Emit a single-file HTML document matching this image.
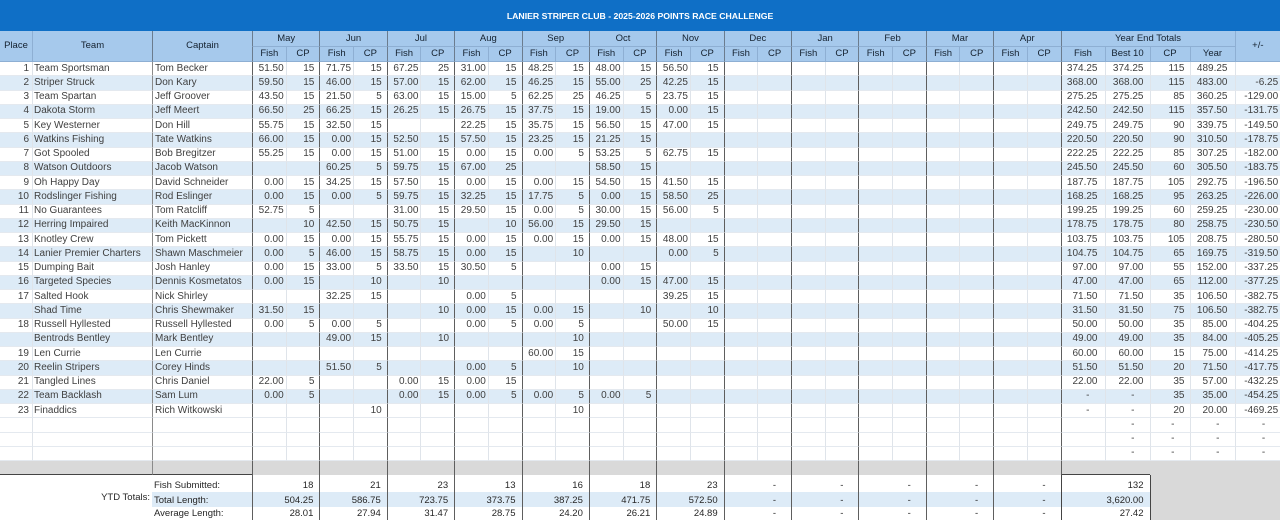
<!DOCTYPE html>
<html><head><meta charset="utf-8">
<style>
html,body{margin:0;padding:0;background:#fff}
body{width:1280px;height:520px;overflow:hidden}
table{border-collapse:separate;border-spacing:0;table-layout:fixed;width:1280px;font-family:"Liberation Sans",Arial,sans-serif;font-size:10px;color:#404040}
td{padding:0;white-space:nowrap;overflow:hidden;line-height:12px;border-left:1px solid #dfe4ea;border-bottom:1px solid #e4e9ef;text-align:right;vertical-align:middle}
tr.ti{height:31px}
.ti td{background:#0f6fc6;color:#fff;font-weight:bold;font-size:8.7px;text-align:center;border:none}
tr.h1{height:16px}
tr.h2{height:15px}
.h td{background:#a6c9ec;color:#14212f;font-size:9.5px;text-align:center;border-left:1px solid #8eafd3;border-bottom:1px solid #8eafd3}
.h td.m{border-left-color:#6b7c8e}
.h td.n{border-left:none}
.d tr{height:14.25px}
.d td:nth-child(1){border-left:none;padding-right:3px}
.d td:nth-child(2){text-align:left;padding-left:1px}
.d td:nth-child(3){text-align:left;padding-left:2px;border-left-color:#8a8a8a}
.d td:nth-child(2n+4){padding-right:2px;border-left-color:#5e5e5e}
.d td:nth-child(2n+5){padding-right:5px}
.d td:nth-child(28){padding-right:7px;border-left-color:#5e5e5e}
.d td:nth-child(29){padding-right:6px;border-left-color:#dfe4ea}
.d td:nth-child(30){padding-right:5px;border-left-color:#dfe4ea}
.d td:nth-child(31){padding-right:7px}
.d td:nth-child(32){padding-right:2px;border-left-color:#dfe4ea}
.d tr.b td{background:#ddebf7}
.d td.z{padding-right:15px !important}
tr.g{height:14px}
.g td{background:#d9d9d9;border-bottom:none;border-left:1px solid #5e5e5e}
.g td.gl{border-left:none;border-bottom:1px solid #444}
.g td.gk{border-left-color:#8a8a8a;border-bottom:1px solid #444}
.g td.gy{border-bottom:1px solid #444}
.g td.gr{border-left:none}
tr.y1{height:16.5px}
tr.y2{height:15px}
tr.y3{height:13.5px}
.y td{color:#262626;font-size:9.5px;vertical-align:bottom;border-bottom:none;border-left:1px solid #5e5e5e;padding-right:6px}
.y td.yl{border-left:none;vertical-align:middle;padding-right:2px;background:#fff}
.y td.yk{text-align:left;padding-left:2px;border-left:none}
.y td.z{padding-right:15px}
.y td.yb{border-left:1px solid #444}
.y td.yr{background:#d9d9d9;border-left:1px solid #444}
tr.y2 td{background:#ddebf7}
tr.y2 td.yr{background:#d9d9d9}
</style></head>
<body>
<table>
<colgroup>
<col style="width:32px"><col style="width:120px"><col style="width:100px">
<col style="width:33.7px"><col style="width:33.7px"><col style="width:33.7px"><col style="width:33.7px">
<col style="width:33.7px"><col style="width:33.7px"><col style="width:33.7px"><col style="width:33.7px">
<col style="width:33.7px"><col style="width:33.7px"><col style="width:33.7px"><col style="width:33.7px">
<col style="width:33.7px"><col style="width:33.7px"><col style="width:33.7px"><col style="width:33.7px">
<col style="width:33.7px"><col style="width:33.7px"><col style="width:33.7px"><col style="width:33.7px">
<col style="width:33.7px"><col style="width:33.7px"><col style="width:33.7px"><col style="width:33.7px">
<col style="width:44px"><col style="width:45px"><col style="width:40px"><col style="width:45px"><col style="width:45.2px">
</colgroup>
<tbody>
<tr class="ti"><td colspan="32">LANIER STRIPER CLUB - 2025-2026 POINTS RACE CHALLENGE</td></tr>
</tbody>
<tbody class="h">
<tr class="h1"><td rowspan="2" class="n">Place</td><td rowspan="2">Team</td><td rowspan="2" class="m">Captain</td>
<td colspan="2" class="m">May</td><td colspan="2" class="m">Jun</td><td colspan="2" class="m">Jul</td><td colspan="2" class="m">Aug</td><td colspan="2" class="m">Sep</td><td colspan="2" class="m">Oct</td><td colspan="2" class="m">Nov</td><td colspan="2" class="m">Dec</td><td colspan="2" class="m">Jan</td><td colspan="2" class="m">Feb</td><td colspan="2" class="m">Mar</td><td colspan="2" class="m">Apr</td>
<td colspan="4" class="m">Year End Totals</td><td rowspan="2">+/-</td></tr>
<tr class="h2"><td class="m">Fish</td><td>CP</td><td class="m">Fish</td><td>CP</td><td class="m">Fish</td><td>CP</td><td class="m">Fish</td><td>CP</td><td class="m">Fish</td><td>CP</td><td class="m">Fish</td><td>CP</td><td class="m">Fish</td><td>CP</td><td class="m">Fish</td><td>CP</td><td class="m">Fish</td><td>CP</td><td class="m">Fish</td><td>CP</td><td class="m">Fish</td><td>CP</td><td class="m">Fish</td><td>CP</td>
<td class="m">Fish</td><td>Best 10</td><td>CP</td><td>Year</td></tr>
</tbody>
<tbody class="d">
<tr><td>1<td>Team Sportsman<td>Tom Becker<td>51.50<td>15<td>71.75<td>15<td>67.25<td>25<td>31.00<td>15<td>48.25<td>15<td>48.00<td>15<td>56.50<td>15<td><td><td><td><td><td><td><td><td><td><td>374.25<td>374.25<td>115<td>489.25<td></tr>
<tr class="b"><td>2<td>Striper Struck<td>Don Kary<td>59.50<td>15<td>46.00<td>15<td>57.00<td>15<td>62.00<td>15<td>46.25<td>15<td>55.00<td>25<td>42.25<td>15<td><td><td><td><td><td><td><td><td><td><td>368.00<td>368.00<td>115<td>483.00<td>-6.25</tr>
<tr><td>3<td>Team Spartan<td>Jeff Groover<td>43.50<td>15<td>21.50<td>5<td>63.00<td>15<td>15.00<td>5<td>62.25<td>25<td>46.25<td>5<td>23.75<td>15<td><td><td><td><td><td><td><td><td><td><td>275.25<td>275.25<td>85<td>360.25<td>-129.00</tr>
<tr class="b"><td>4<td>Dakota Storm<td>Jeff Meert<td>66.50<td>25<td>66.25<td>15<td>26.25<td>15<td>26.75<td>15<td>37.75<td>15<td>19.00<td>15<td>0.00<td>15<td><td><td><td><td><td><td><td><td><td><td>242.50<td>242.50<td>115<td>357.50<td>-131.75</tr>
<tr><td>5<td>Key Westerner<td>Don Hill<td>55.75<td>15<td>32.50<td>15<td><td><td>22.25<td>15<td>35.75<td>15<td>56.50<td>15<td>47.00<td>15<td><td><td><td><td><td><td><td><td><td><td>249.75<td>249.75<td>90<td>339.75<td>-149.50</tr>
<tr class="b"><td>6<td>Watkins Fishing<td>Tate Watkins<td>66.00<td>15<td>0.00<td>15<td>52.50<td>15<td>57.50<td>15<td>23.25<td>15<td>21.25<td>15<td><td><td><td><td><td><td><td><td><td><td><td><td>220.50<td>220.50<td>90<td>310.50<td>-178.75</tr>
<tr><td>7<td>Got Spooled<td>Bob Bregitzer<td>55.25<td>15<td>0.00<td>15<td>51.00<td>15<td>0.00<td>15<td>0.00<td>5<td>53.25<td>5<td>62.75<td>15<td><td><td><td><td><td><td><td><td><td><td>222.25<td>222.25<td>85<td>307.25<td>-182.00</tr>
<tr class="b"><td>8<td>Watson Outdoors<td>Jacob Watson<td><td><td>60.25<td>5<td>59.75<td>15<td>67.00<td>25<td><td><td>58.50<td>15<td><td><td><td><td><td><td><td><td><td><td><td><td>245.50<td>245.50<td>60<td>305.50<td>-183.75</tr>
<tr><td>9<td>Oh Happy Day<td>David Schneider<td>0.00<td>15<td>34.25<td>15<td>57.50<td>15<td>0.00<td>15<td>0.00<td>15<td>54.50<td>15<td>41.50<td>15<td><td><td><td><td><td><td><td><td><td><td>187.75<td>187.75<td>105<td>292.75<td>-196.50</tr>
<tr class="b"><td>10<td>Rodslinger Fishing<td>Rod Eslinger<td>0.00<td>15<td>0.00<td>5<td>59.75<td>15<td>32.25<td>15<td>17.75<td>5<td>0.00<td>15<td>58.50<td>25<td><td><td><td><td><td><td><td><td><td><td>168.25<td>168.25<td>95<td>263.25<td>-226.00</tr>
<tr><td>11<td>No Guarantees<td>Tom Ratcliff<td>52.75<td>5<td><td><td>31.00<td>15<td>29.50<td>15<td>0.00<td>5<td>30.00<td>15<td>56.00<td>5<td><td><td><td><td><td><td><td><td><td><td>199.25<td>199.25<td>60<td>259.25<td>-230.00</tr>
<tr class="b"><td>12<td>Herring Impaired<td>Keith MacKinnon<td><td>10<td>42.50<td>15<td>50.75<td>15<td><td>10<td>56.00<td>15<td>29.50<td>15<td><td><td><td><td><td><td><td><td><td><td><td><td>178.75<td>178.75<td>80<td>258.75<td>-230.50</tr>
<tr><td>13<td>Knotley Crew<td>Tom Pickett<td>0.00<td>15<td>0.00<td>15<td>55.75<td>15<td>0.00<td>15<td>0.00<td>15<td>0.00<td>15<td>48.00<td>15<td><td><td><td><td><td><td><td><td><td><td>103.75<td>103.75<td>105<td>208.75<td>-280.50</tr>
<tr class="b"><td>14<td>Lanier Premier Charters<td>Shawn Maschmeier<td>0.00<td>5<td>46.00<td>15<td>58.75<td>15<td>0.00<td>15<td><td>10<td><td><td>0.00<td>5<td><td><td><td><td><td><td><td><td><td><td>104.75<td>104.75<td>65<td>169.75<td>-319.50</tr>
<tr><td>15<td>Dumping Bait<td>Josh Hanley<td>0.00<td>15<td>33.00<td>5<td>33.50<td>15<td>30.50<td>5<td><td><td>0.00<td>15<td><td><td><td><td><td><td><td><td><td><td><td><td>97.00<td>97.00<td>55<td>152.00<td>-337.25</tr>
<tr class="b"><td>16<td>Targeted Species<td>Dennis Kosmetatos<td>0.00<td>15<td><td>10<td><td>10<td><td><td><td><td>0.00<td>15<td>47.00<td>15<td><td><td><td><td><td><td><td><td><td><td>47.00<td>47.00<td>65<td>112.00<td>-377.25</tr>
<tr><td>17<td>Salted Hook<td>Nick Shirley<td><td><td>32.25<td>15<td><td><td>0.00<td>5<td><td><td><td><td>39.25<td>15<td><td><td><td><td><td><td><td><td><td><td>71.50<td>71.50<td>35<td>106.50<td>-382.75</tr>
<tr class="b"><td><td>Shad Time<td>Chris Shewmaker<td>31.50<td>15<td><td><td><td>10<td>0.00<td>15<td>0.00<td>15<td><td>10<td><td>10<td><td><td><td><td><td><td><td><td><td><td>31.50<td>31.50<td>75<td>106.50<td>-382.75</tr>
<tr><td>18<td>Russell Hyllested<td>Russell Hyllested<td>0.00<td>5<td>0.00<td>5<td><td><td>0.00<td>5<td>0.00<td>5<td><td><td>50.00<td>15<td><td><td><td><td><td><td><td><td><td><td>50.00<td>50.00<td>35<td>85.00<td>-404.25</tr>
<tr class="b"><td><td>Bentrods Bentley<td>Mark Bentley<td><td><td>49.00<td>15<td><td>10<td><td><td><td>10<td><td><td><td><td><td><td><td><td><td><td><td><td><td><td>49.00<td>49.00<td>35<td>84.00<td>-405.25</tr>
<tr><td>19<td>Len Currie<td>Len Currie<td><td><td><td><td><td><td><td><td>60.00<td>15<td><td><td><td><td><td><td><td><td><td><td><td><td><td><td>60.00<td>60.00<td>15<td>75.00<td>-414.25</tr>
<tr class="b"><td>20<td>Reelin Stripers<td>Corey Hinds<td><td><td>51.50<td>5<td><td><td>0.00<td>5<td><td>10<td><td><td><td><td><td><td><td><td><td><td><td><td><td><td>51.50<td>51.50<td>20<td>71.50<td>-417.75</tr>
<tr><td>21<td>Tangled Lines<td>Chris Daniel<td>22.00<td>5<td><td><td>0.00<td>15<td>0.00<td>15<td><td><td><td><td><td><td><td><td><td><td><td><td><td><td><td><td>22.00<td>22.00<td>35<td>57.00<td>-432.25</tr>
<tr class="b"><td>22<td>Team Backlash<td>Sam Lum<td>0.00<td>5<td><td><td>0.00<td>15<td>0.00<td>5<td>0.00<td>5<td>0.00<td>5<td><td><td><td><td><td><td><td><td><td><td><td><td class="z">-<td class="z">-<td>35<td>35.00<td>-454.25</tr>
<tr><td>23<td>Finaddics<td>Rich Witkowski<td><td><td><td>10<td><td><td><td><td><td>10<td><td><td><td><td><td><td><td><td><td><td><td><td><td><td class="z">-<td class="z">-<td>20<td>20.00<td>-469.25</tr>
<tr><td><td><td><td><td><td><td><td><td><td><td><td><td><td><td><td><td><td><td><td><td><td><td><td><td><td><td><td><td class="z">-<td class="z">-<td class="z">-<td class="z">-<td class="z">-</tr>
<tr><td><td><td><td><td><td><td><td><td><td><td><td><td><td><td><td><td><td><td><td><td><td><td><td><td><td><td><td><td class="z">-<td class="z">-<td class="z">-<td class="z">-<td class="z">-</tr>
<tr><td><td><td><td><td><td><td><td><td><td><td><td><td><td><td><td><td><td><td><td><td><td><td><td><td><td><td><td><td class="z">-<td class="z">-<td class="z">-<td class="z">-<td class="z">-</tr>
</tbody>
<tbody>
<tr class="g"><td colspan="2" class="gl"></td><td class="gk"></td>
<td colspan="2"></td><td colspan="2"></td><td colspan="2"></td><td colspan="2"></td><td colspan="2"></td><td colspan="2"></td><td colspan="2"></td><td colspan="2"></td><td colspan="2"></td><td colspan="2"></td><td colspan="2"></td><td colspan="2"></td>
<td colspan="2" class="gy"></td><td colspan="3" class="gr"></td></tr>
</tbody>
<tbody class="y">
<tr class="y1"><td colspan="2" rowspan="3" class="yl">YTD Totals:</td><td class="yk">Fish Submitted:</td>
<td colspan="2">18</td><td colspan="2">21</td><td colspan="2">23</td><td colspan="2">13</td><td colspan="2">16</td><td colspan="2">18</td><td colspan="2">23</td><td colspan="2" class="z">-</td><td colspan="2" class="z">-</td><td colspan="2" class="z">-</td><td colspan="2" class="z">-</td><td colspan="2" class="z">-</td>
<td colspan="2" class="yb">132</td><td colspan="3" rowspan="3" class="yr"></td></tr>
<tr class="y2"><td class="yk">Total Length:</td>
<td colspan="2">504.25</td><td colspan="2">586.75</td><td colspan="2">723.75</td><td colspan="2">373.75</td><td colspan="2">387.25</td><td colspan="2">471.75</td><td colspan="2">572.50</td><td colspan="2" class="z">-</td><td colspan="2" class="z">-</td><td colspan="2" class="z">-</td><td colspan="2" class="z">-</td><td colspan="2" class="z">-</td>
<td colspan="2" class="yb">3,620.00</td></tr>
<tr class="y3"><td class="yk">Average Length:</td>
<td colspan="2">28.01</td><td colspan="2">27.94</td><td colspan="2">31.47</td><td colspan="2">28.75</td><td colspan="2">24.20</td><td colspan="2">26.21</td><td colspan="2">24.89</td><td colspan="2" class="z">-</td><td colspan="2" class="z">-</td><td colspan="2" class="z">-</td><td colspan="2" class="z">-</td><td colspan="2" class="z">-</td>
<td colspan="2" class="yb">27.42</td></tr>
</tbody>
</table>
</body></html>
